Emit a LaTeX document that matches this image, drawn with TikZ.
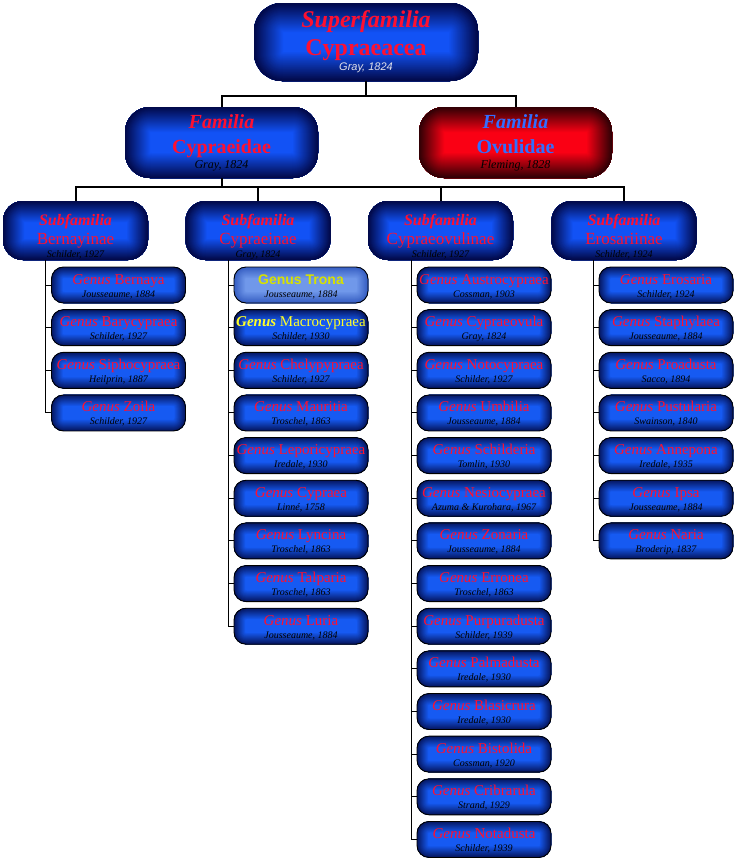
\documentclass[tikz,border=0pt]{standalone}
\usepackage{fontspec}
\setmainfont{Liberation Serif}
\newfontfamily\arialfont{Liberation Sans}
\definecolor{txtred}{RGB}{255,16,48}
\definecolor{txtblue}{RGB}{50,110,255}
\definecolor{txtyellow}{RGB}{255,255,40}
\definecolor{tronayellow}{RGB}{215,225,0}
\definecolor{bcen}{RGB}{18,82,245}
\definecolor{bout}{RGB}{2,10,75}
\definecolor{rcen}{RGB}{250,0,20}
\definecolor{rout}{RGB}{50,0,5}
\definecolor{gcen}{RGB}{22,90,242}
\definecolor{gout}{RGB}{6,24,100}
\definecolor{tcen}{RGB}{112,152,234}
\definecolor{tout}{RGB}{55,95,195}
\definecolor{authgray}{RGB}{225,225,235}

\newcommand\glowfill[4]{%
  \fill[#1] (path picture bounding box.south west) rectangle (path picture bounding box.north east);
  \foreach \gk in {#3,...,1}{%
    \pgfmathtruncatemacro\mixp{100*(\gk-1)/(#3-1)}%
    \pgfmathsetmacro\lw{2*\gk}%
    \draw[line width=\lw pt, draw=#1!\mixp!#2, rounded corners=#4]
      (path picture bounding box.south west) rectangle (path picture bounding box.north east);
  }%
}
\newcommand\mytopstrut[1]{\rule{0pt}{#1}}
\newcommand\mybotstrut[1]{\rule[-#1]{0pt}{#1}}
\newcommand\gentxt[2]{\mytopstrut{17pt}{\itshape Genus} #1\\\itshape\fontsize{10}{12}\selectfont\color{black}#2\mybotstrut{6pt}}

\tikzset{
  conn/.style={line width=2pt, draw=black},
  gconn/.style={line width=1pt, draw=black},
  glow/.style n args={4}{rounded corners=#4, path picture={\glowfill{#1}{#2}{#3}{#4}}},
  superbox/.style={glow={bcen}{bout}{30}{28pt}, minimum width=224pt, minimum height=78pt,
    inner sep=0pt, align=center, font=\fontsize{24}{28}\selectfont, text=txtred},
  famblue/.style={glow={bcen}{bout}{26}{25pt}, minimum width=193pt, minimum height=71pt,
    inner sep=0pt, align=center, font=\fontsize{20}{25}\selectfont, text=txtred},
  famred/.style={glow={rcen}{rout}{26}{25pt}, minimum width=193pt, minimum height=71pt,
    inner sep=0pt, align=center, font=\fontsize{20}{25}\selectfont, text=txtblue},
  subbox/.style={glow={bcen}{bout}{22}{20pt}, minimum width=145pt, minimum height=59pt,
    inner sep=0pt, align=center, font=\fontsize{16}{19}\selectfont, text=txtred},
  genusbox/.style={glow={gcen}{gout}{12}{12pt}, draw=black, line width=0.9pt,
    minimum width=134pt, minimum height=36pt, inner sep=0pt, align=center,
    font=\fontsize{15}{13}\selectfont, text=txtred},
  tronabox/.style={genusbox, glow={tcen}{tout}{12}{12pt}},
}

\begin{document}
\begin{tikzpicture}[x=1pt, y=-1pt]
\useasboundingbox (0,0) rectangle (746,860);
\fill[white] (0,0) rectangle (746,860);

% junction and column coordinates
\coordinate (j0) at (366,96);
\coordinate (j1) at (221.5,187);
\coordinate (l1) at (45,0);
\coordinate (l2) at (228,0);
\coordinate (l3) at (411,0);
\coordinate (l4) at (593,0);

% superfamily
\node[superbox] (sf) at (366,42) {\mytopstrut{24pt}\bfseries\itshape Superfamilia\\\bfseries\upshape Cypraeacea\\[-13pt]\arialfont\itshape\fontsize{11}{13}\selectfont\color{authgray}Gray, 1824\mybotstrut{11pt}};

% families
\node[famblue] (fam1) at (221.5,142.5) {\mytopstrut{21pt}\bfseries\itshape Familia\\\bfseries\upshape Cypraeidae\\[-10pt]\itshape\fontsize{12}{14}\selectfont\color{black}Gray, 1824\mybotstrut{10pt}};
\node[famred] (fam2) at (515.5,142.5) {\mytopstrut{21pt}\bfseries\itshape Familia\\\bfseries\upshape Ovulidae\\[-10pt]\itshape\fontsize{12}{14}\selectfont\color{black}Fleming, 1828\mybotstrut{10pt}};

\draw[conn] (sf.south) -- (j0) -| (fam1.north);
\draw[conn] (sf.south) -- (j0) -| (fam2.north);

% subfamilies
\node[subbox] (sub1) at (75.5,230.5) {\mytopstrut{24pt}\bfseries\itshape Subfamilia\\\fontsize{17}{19}\selectfont Bernayinae\\[-6pt]\itshape\fontsize{10}{12}\selectfont\color{black}Schilder, 1927\mybotstrut{3pt}};
\node[subbox] (sub2) at (258,230.5) {\mytopstrut{24pt}\bfseries\itshape Subfamilia\\\fontsize{17}{19}\selectfont Cypraeinae\\[-6pt]\itshape\fontsize{10}{12}\selectfont\color{black}Gray, 1824\mybotstrut{3pt}};
\node[subbox] (sub3) at (440.5,230.5) {\mytopstrut{24pt}\bfseries\itshape Subfamilia\\\fontsize{17}{19}\selectfont Cypraeovulinae\\[-6pt]\itshape\fontsize{10}{12}\selectfont\color{black}Schilder, 1927\mybotstrut{3pt}};
\node[subbox] (sub4) at (624,230.5) {\mytopstrut{24pt}\bfseries\itshape Subfamilia\\\fontsize{17}{19}\selectfont Erosariinae\\[-6pt]\itshape\fontsize{10}{12}\selectfont\color{black}Schilder, 1924\mybotstrut{3pt}};

\foreach \s in {1,2,3,4}{
  \draw[conn] (fam1.south) -- (j1) -| (sub\s.north);
}

% genera: Bernayinae
\foreach \nm/\au/\yr [count=\i] in {Bernaya/Jousseaume/1884, Barycypraea/Schilder/1927,
    Siphocypraea/Heilprin/1887, Zoila/Schilder/1927}{
  \pgfmathsetmacro\gy{285+42.65*(\i-1)}
  \node[genusbox] (g1-\i) at (118.5,\gy) {\gentxt{\nm}{\au, \yr}};
  \draw[gconn] (sub1.south -| l1) |- (g1-\i.west);
}

% genera: Cypraeinae
\node[tronabox] (g2-1) at (301,285) {\mytopstrut{17pt}\arialfont\bfseries\fontsize{14}{13}\selectfont\color{tronayellow}Genus Trona\\\itshape\fontsize{10}{12}\selectfont\color{black}Jousseaume, 1884\mybotstrut{6pt}};
\draw[gconn] (sub2.south -| l2) |- (g2-1.west);
\node[genusbox] (g2-2) at (301,327.65) {\mytopstrut{17pt}\color{txtyellow}{\bfseries\itshape Genus} Macrocypraea\\\itshape\fontsize{10}{12}\selectfont\color{black}Schilder, 1930\mybotstrut{6pt}};
\draw[gconn] (sub2.south -| l2) |- (g2-2.west);
\foreach \nm/\au/\yr [count=\i from 3] in {Chelypypraea/Schilder/1927, Mauritia/Troschel/1863,
    Leporicypraea/Iredale/1930, Cypraea/Linné/1758, Lyncina/Troschel/1863,
    Talparia/Troschel/1863, Luria/Jousseaume/1884}{
  \pgfmathsetmacro\gy{285+42.65*(\i-1)}
  \node[genusbox] (g2-\i) at (301,\gy) {\gentxt{\nm}{\au, \yr}};
  \draw[gconn] (sub2.south -| l2) |- (g2-\i.west);
}

% genera: Cypraeovulinae
\foreach \nm/\au/\yr [count=\i] in {Austrocypraea/Cossman/1903, Cypraeovula/Gray/1824,
    Notocypraea/Schilder/1927, Umbilia/Jousseaume/1884, Schilderia/Tomlin/1930,
    Nesiocypraea/Azuma \& Kurohara/1967, Zonaria/Jousseaume/1884, Erronea/Troschel/1863,
    Purpuradusta/Schilder/1939, Palmadusta/Iredale/1930, Blasicrura/Iredale/1930,
    Bistolida/Cossman/1920, Cribrarula/Strand/1929, Notadusta/Schilder/1939}{
  \pgfmathsetmacro\gy{285+42.65*(\i-1)}
  \node[genusbox] (g3-\i) at (484,\gy) {\gentxt{\nm}{\au, \yr}};
  \draw[gconn] (sub3.south -| l3) |- (g3-\i.west);
}

% genera: Erosariinae
\foreach \nm/\au/\yr [count=\i] in {Erosaria/Schilder/1924, Staphylaea/Jousseaume/1884,
    Proadusta/Sacco/1894, Pustularia/Swainson/1840, Annepona/Iredale/1935,
    Ipsa/Jousseaume/1884, Naria/Broderip/1837}{
  \pgfmathsetmacro\gy{285+42.65*(\i-1)}
  \node[genusbox] (g4-\i) at (666,\gy) {\gentxt{\nm}{\au, \yr}};
  \draw[gconn] (sub4.south -| l4) |- (g4-\i.west);
}
\end{tikzpicture}
\end{document}
